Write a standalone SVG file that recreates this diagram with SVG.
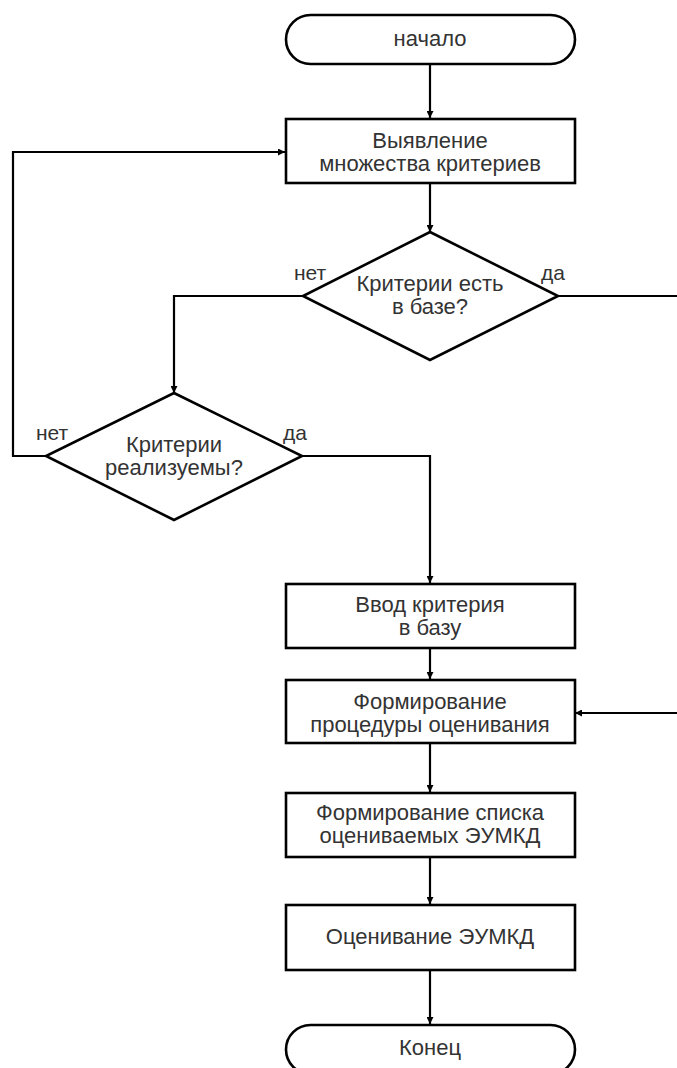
<svg xmlns="http://www.w3.org/2000/svg" width="677" height="1068" viewBox="0 0 677 1068">
<style>
.shape{fill:#fff;stroke:#000;stroke-width:2.6}
.conn{fill:none;stroke:#000;stroke-width:2.2}
text{font-family:"Liberation Sans",Arial,sans-serif;font-size:22px;fill:#333;text-anchor:middle}
.lbl{text-anchor:start;font-size:21px}
</style>
<defs>
<marker id="arr" viewBox="0 0 8 8" refX="8" refY="4" markerWidth="7" markerHeight="7" markerUnits="userSpaceOnUse" orient="auto">
<path d="M0,0 L8,4 L0,8 z" fill="#000"/>
</marker>
</defs>
<rect width="677" height="1068" fill="#fff"/>
<g id="connectors">
<path class="conn" d="M430,64 V118" marker-end="url(#arr)"/>
<path class="conn" d="M430,183 V232" marker-end="url(#arr)"/>
<path class="conn" d="M303,296 H174 V393" marker-end="url(#arr)"/>
<path class="conn" d="M46,456 H13 V152 H285" marker-end="url(#arr)"/>
<path class="conn" d="M302,456 H430 V583" marker-end="url(#arr)"/>
<path class="conn" d="M558,296 H700 V713 H575" marker-end="url(#arr)"/>
<path class="conn" d="M430,648 V679" marker-end="url(#arr)"/>
<path class="conn" d="M430,743 V792" marker-end="url(#arr)"/>
<path class="conn" d="M430,857 V904" marker-end="url(#arr)"/>
<path class="conn" d="M430,970 V1024" marker-end="url(#arr)"/>
</g>
<g id="start">
<rect class="shape" x="286" y="15" width="289" height="49" rx="24.5"/>
<text x="430" y="46">начало</text>
</g>
<g id="box1">
<rect class="shape" x="286" y="119" width="289" height="64"/>
<text x="430" y="148">Выявление</text>
<text x="430" y="171">множества критериев</text>
</g>
<g id="dec1">
<polygon class="shape" points="430,232 558,296 430,360 303,296"/>
<text x="430" y="291">Критерии есть</text>
<text x="430" y="314">в базе?</text>
<text class="lbl" x="294" y="280">нет</text>
<text class="lbl" x="541" y="280">да</text>
</g>
<g id="dec2">
<polygon class="shape" points="174,393 302,456 174,520 46,456"/>
<text x="174" y="452">Критерии</text>
<text x="174" y="475">реализуемы?</text>
<text class="lbl" x="36" y="440">нет</text>
<text class="lbl" x="283" y="440">да</text>
</g>
<g id="box3">
<rect class="shape" x="286" y="584" width="289" height="64"/>
<text x="430" y="612">Ввод критерия</text>
<text x="430" y="635">в базу</text>
</g>
<g id="box4">
<rect class="shape" x="286" y="680" width="289" height="63"/>
<text x="430" y="709">Формирование</text>
<text x="430" y="732">процедуры оценивания</text>
</g>
<g id="box5">
<rect class="shape" x="286" y="793" width="289" height="64"/>
<text x="430" y="820">Формирование списка</text>
<text x="430" y="843">оцениваемых ЭУМКД</text>
</g>
<g id="box6">
<rect class="shape" x="286" y="905" width="289" height="65"/>
<text x="430" y="944">Оценивание ЭУМКД</text>
</g>
<g id="end">
<rect class="shape" x="286" y="1025" width="289" height="49" rx="24.5"/>
<text x="430" y="1055">Конец</text>
</g>
</svg>
